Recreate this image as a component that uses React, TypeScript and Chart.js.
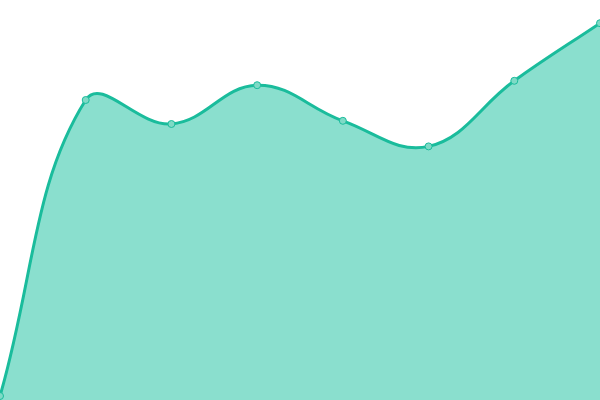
import { useEffect, useRef } from "react";
import { Chart, registerables } from "chart.js";

Chart.register(...registerables);

const labels = ["1", "2", "3", "4", "5", "6", "7", "8"];
const values = [1, 75, 69, 78.7, 69.8, 63.4, 79.8, 94.2];

const App = () => {
  const canvasRef = useRef<HTMLCanvasElement>(null);

  useEffect(() => {
    document.body.style.margin = "0";
    if (!canvasRef.current) return;
    const chart = new Chart(canvasRef.current, {
      type: "line",
      data: {
        labels,
        datasets: [
          {
            data: values,
            fill: "origin",
            borderColor: "#1abc9c",
            backgroundColor: "rgba(22, 192, 158, 0.5)",
            borderWidth: 3,
            tension: 0.4,
            pointRadius: 3.5,
            pointBorderWidth: 1,
            pointBackgroundColor: "#7fdac6",
            pointBorderColor: "#1abc9c",
          },
        ],
      },
      options: {
        responsive: true,
        maintainAspectRatio: false,
        animation: false,
        layout: { padding: 0, autoPadding: false },
        scales: {
          x: { display: false, offset: false },
          y: { display: false, min: 0, max: 100 },
        },
        plugins: {
          legend: { display: false },
          tooltip: { enabled: false },
        },
      },
    });
    return () => chart.destroy();
  }, []);

  return (
    <div style={{ position: "fixed", left: 0, top: 0, width: 600, height: 400 }}>
      <canvas ref={canvasRef} />
    </div>
  );
};

export default App;
